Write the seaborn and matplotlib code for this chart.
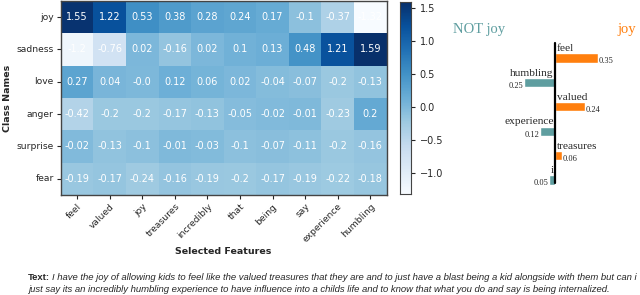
import numpy as np
import pandas as pd
import matplotlib
matplotlib.use("Agg")
import matplotlib.pyplot as plt
import seaborn as sns

classes = ["joy", "sadness", "love", "anger", "surprise", "fear"]
features = ["feel", "valued", "joy", "treasures", "incredibly", "that",
            "being", "say", "experience", "humbling"]
scores = [
    [1.55, 1.22, 0.53, 0.38, 0.28, 0.24, 0.17, -0.1, -0.37, -1.32],
    [-1.2, -0.76, 0.02, -0.16, 0.02, 0.1, 0.13, 0.48, 1.21, 1.59],
    [0.27, 0.04, -0.0, 0.12, 0.06, 0.02, -0.04, -0.07, -0.2, -0.13],
    [-0.42, -0.2, -0.2, -0.17, -0.13, -0.05, -0.02, -0.01, -0.23, 0.2],
    [-0.02, -0.13, -0.1, -0.01, -0.03, -0.1, -0.07, -0.11, -0.2, -0.16],
    [-0.19, -0.17, -0.24, -0.16, -0.19, -0.2, -0.17, -0.19, -0.22, -0.18],
]

# LIME explanation for "joy" (negative = NOT joy)
lime_words = ["feel", "humbling", "valued", "experience", "treasures", "i"]
lime_weights = [0.35, -0.25, 0.24, -0.12, 0.06, -0.05]

sentence = ("I have the joy of allowing kids to feel like the valued treasures that they are "
            "and to just have a blast being a kid alongside with them but can i",
            "just say its an incredibly humbling experience to have influence into a childs "
            "life and to know that what you do and say is being internalized.")

TEAL = "#5f9ea0"
ORANGE = "#ff7f0e"

sns.set_style("white")
plt.rcParams["font.family"] = ["DejaVu Sans"]

fig = plt.figure(figsize=(6.4, 2.95), dpi=100)

# heatmap
df = pd.DataFrame(scores, index=classes, columns=features)
labels = df.map(str).values
ax = fig.add_axes([0.095, 0.339, 0.509, 0.658])
cax = fig.add_axes([0.625, 0.342, 0.0167, 0.651])
sns.heatmap(df, ax=ax, cbar_ax=cax, cmap="Blues", vmin=-1.32, vmax=1.59,
            annot=labels, fmt="", annot_kws={"color": "white", "fontsize": 7})
for s in ax.spines.values():
    s.set_visible(True)
    s.set_color("#444444")
    s.set_linewidth(1)
ax.tick_params(axis="both", length=3, pad=2, labelsize=6.6, left=True, bottom=True)
ax.set_yticklabels(classes, rotation=0)
ax.set_xticklabels(features, rotation=45, ha="right", rotation_mode="anchor")
ax.set_xlabel("Selected Features", fontsize=6.8, fontweight="bold", labelpad=2)
ax.set_ylabel("Class Names", fontsize=6.8, fontweight="bold", labelpad=3)
cax.tick_params(labelsize=7, length=3)
cax.set_yticks([1.5, 1.0, 0.5, 0.0, -0.5, -1.0])
for s in cax.spines.values():
    s.set_visible(True)
    s.set_color("#444444")

# LIME bars
lax = fig.add_axes([440 / 640, 1 - 192.2 / 295, 200 / 640, 146.4 / 295])
lime = pd.DataFrame({"word": lime_words, "weight": lime_weights})
lime["side"] = np.where(lime["weight"] > 0, "joy", "NOT joy")
sns.barplot(data=lime, x="weight", y="word", hue="side", orient="h", dodge=False,
            palette={"joy": ORANGE, "NOT joy": TEAL}, width=0.38, legend=False,
            saturation=1, ax=lax)
lax.set_xlim(-0.935, 0.69)
lax.set_ylim(5.5, -0.5)
lax.axis("off")
lax.axvline(0, ymin=0.06, ymax=1.02, color="black", lw=1.6, clip_on=False)
serif = ["Liberation Serif", "DejaVu Serif"]
for i, (w, v) in enumerate(zip(lime_words, lime_weights)):
    if v > 0:
        lax.text(0.012, i - 0.2, w, ha="left", va="bottom", fontsize=8.2, family=serif)
        lax.text(v + 0.005, i + 0.14, f"{abs(v):.2f}", ha="left", va="center",
                 fontsize=6, family=serif)
    else:
        lax.text(-0.012, i - 0.2, w, ha="right", va="bottom", fontsize=8.2, family=serif)
        lax.text(v - 0.005, i + 0.14, f"{abs(v):.2f}", ha="right", va="center",
                 fontsize=6, family=serif)
fig.text(453 / 640, 1 - 30 / 295, "NOT joy", color=TEAL, fontsize=10.5,
         family=serif, ha="left", va="center")
fig.text(617 / 640, 1 - 30 / 295, "joy", color=ORANGE, fontsize=10.5,
         family=serif, ha="left", va="center")

# input sentence
sans = ["Liberation Sans", "DejaVu Sans"]
fs = 6.8
x0 = 28 / 640
t = fig.text(x0, 1 - 278 / 295, "Text:", fontsize=fs, fontweight="bold",
             family=sans, va="center")
r = fig.canvas.get_renderer()
bb = t.get_window_extent(r)
fig.text((bb.x1 + 2) / 640, 1 - 278 / 295, sentence[0], fontsize=fs,
         style="italic", family=sans, va="center")
fig.text(x0, 1 - 290 / 295, sentence[1], fontsize=fs, style="italic",
         family=sans, va="center")

fig.savefig("out.png", dpi=100)
